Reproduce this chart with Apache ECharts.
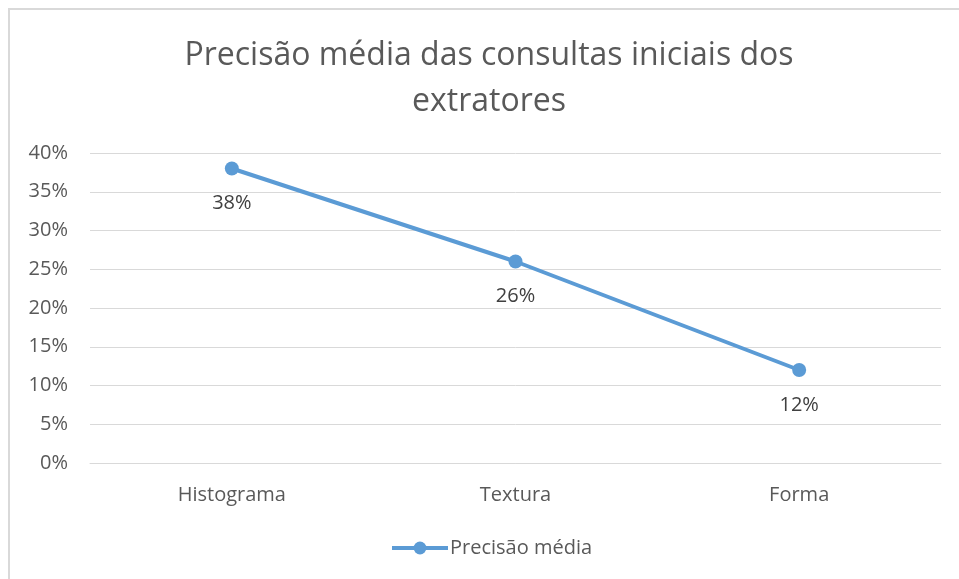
<!DOCTYPE html>
<html>
<head>
<meta charset="utf-8">
<script src="https://cdn.jsdelivr.net/npm/echarts@6/dist/echarts.min.js"></script>
<style>
html,body{margin:0;padding:0;background:#fff;}
#chart{width:959px;height:579px;}
</style>
</head>
<body>
<div id="chart"></div>
<script>
const titleText = 'Precisão média das consultas iniciais dos\nextratores';
const categories = ['Histograma', 'Textura', 'Forma'];
const seriesName = 'Precisão média';
const values = [38, 26, 12];
const yTicks = [0, 5, 10, 15, 20, 25, 30, 35, 40];

const font = '"Open Sans", "Noto Sans", sans-serif';
const chart = echarts.init(document.getElementById('chart'));
chart.setOption({
  animation: false,
  backgroundColor: '#fff',
  title: {
    text: titleText,
    left: 484,
    textAlign: 'center',
    top: 28,
    textStyle: { fontFamily: font, fontSize: 32, fontWeight: 'normal', color: '#595959', lineHeight: 46 }
  },
  graphic: [{
    type: 'rect',
    shape: { x: 9, y: 9, width: 2000, height: 2000 },
    style: { fill: 'none', stroke: '#d9d9d9', lineWidth: 2 },
    silent: true
  }],
  legend: {
    bottom: 16,
    left: 385,
    itemWidth: 56,
    itemHeight: 16,
    itemGap: 4,
    data: [seriesName],
    lineStyle: { width: 4 },
    textStyle: { fontFamily: font, fontSize: 20, color: '#595959', padding: [0, 0, 0, -3] }
  },
  grid: { left: 90, right: 18, top: 153, bottom: 116, containLabel: false },
  xAxis: {
    type: 'category',
    data: categories,
    boundaryGap: true,
    axisLine: { show: true, lineStyle: { color: '#d9d9d9', width: 1 } },
    axisTick: { show: false },
    axisLabel: { fontFamily: font, fontSize: 20, color: '#595959', margin: 22 }
  },
  yAxis: {
    type: 'value',
    min: yTicks[0],
    max: yTicks[yTicks.length - 1],
    interval: yTicks[1] - yTicks[0],
    axisLine: { show: false },
    axisTick: { show: false },
    splitLine: { lineStyle: { color: '#d9d9d9', width: 1 } },
    axisLabel: { fontFamily: font, fontSize: 20, color: '#595959', margin: 22, formatter: '{value}%' }
  },
  series: [{
    name: seriesName,
    type: 'line',
    data: values,
    symbol: 'circle',
    symbolSize: 14,
    lineStyle: { color: '#5b9bd5', width: 4 },
    itemStyle: { color: '#5b9bd5' },
    label: {
      show: true,
      position: 'bottom',
      distance: 18,
      formatter: '{c}%',
      fontFamily: font,
      fontSize: 20,
      color: '#404040'
    }
  }]
});
</script>
</body>
</html>
